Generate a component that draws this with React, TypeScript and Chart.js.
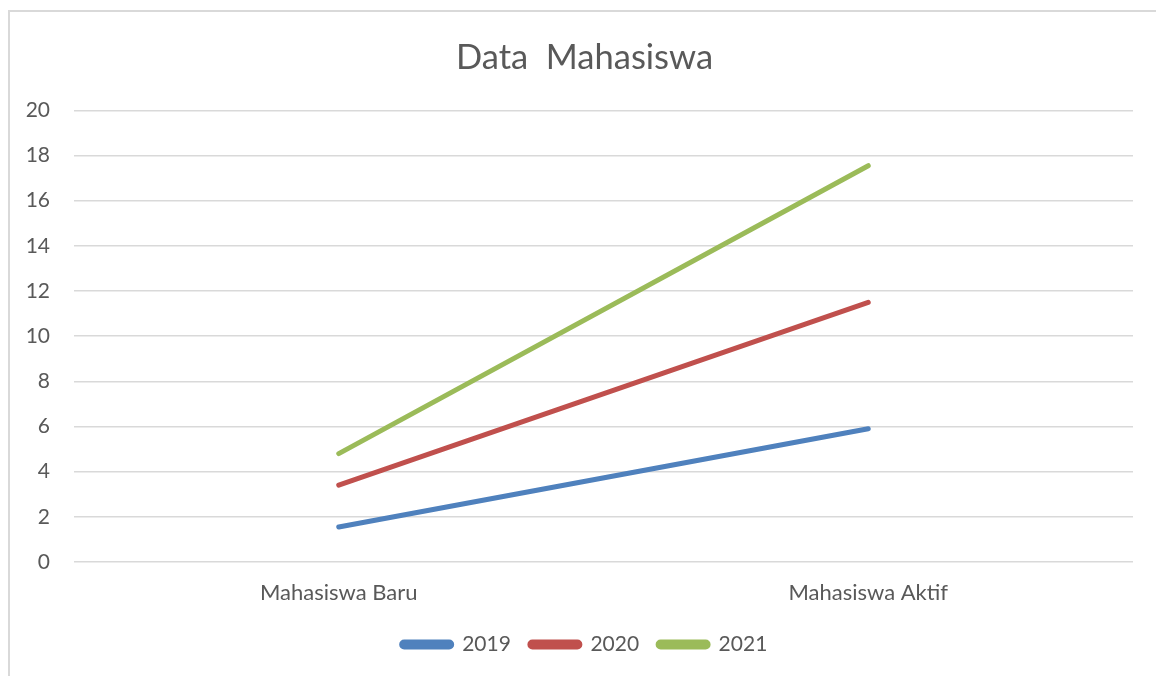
import React, { useEffect, useRef } from "react";
import { Chart, registerables } from "chart.js";

Chart.register(...registerables);

const categories = ["Mahasiswa Baru", "Mahasiswa Aktif"];
const series2019 = [1.55, 5.9];
const series2020 = [3.4, 11.5];
const series2021 = [4.8, 17.55];
const seriesLabels = ["2019", "2020", "2021"];
const seriesColors = ["#4F81BD", "#C0504D", "#9BBB59"];
const titleText = "Data  Mahasiswa";

const FONT = "Lato, 'Open Sans', sans-serif";
const TEXT = "#595959";

export default function App() {
  const ref = useRef<HTMLCanvasElement | null>(null);
  useEffect(() => {
    if (!ref.current) return;
    const data = [series2019, series2020, series2021];
    const chart = new Chart(ref.current, {
      type: "line",
      data: {
        labels: categories,
        datasets: data.map((d, i) => ({
          label: seriesLabels[i],
          data: d,
          borderColor: seriesColors[i],
          backgroundColor: seriesColors[i],
          borderWidth: 5,
          borderCapStyle: "round",
          pointRadius: 0,
          pointHoverRadius: 0,
          tension: 0,
          yAxisID: "y",
        })),
      },
      options: {
        animation: false,
        responsive: false,
        layout: { padding: { left: 26, right: 13, top: 0, bottom: 11 } },
        plugins: {
          title: {
            display: true,
            text: titleText,
            color: TEXT,
            font: { family: FONT, size: 34.5, weight: "normal" },
            padding: { top: 37, bottom: 32 },
          },
          legend: {
            display: true,
            position: "bottom",
            labels: {
              color: TEXT,
              font: { family: FONT, size: 21 },
              boxWidth: 50,
              boxHeight: 5,
              padding: 19,
              useBorderRadius: true,
              borderRadius: 2.5,
            },
          },
          tooltip: { enabled: false },
        },
        scales: {
          x: {
            offset: true,
            grid: { display: false, drawTicks: false },
            border: { display: false },
            ticks: {
              color: TEXT,
              font: { family: FONT, size: 22 },
              padding: 18,
            },
            afterFit: (s: any) => {
              s.height = 53;
            },
          },
          y: {
            position: "left",
            min: 0,
            max: 20,
            ticks: {
              stepSize: 2,
              color: TEXT,
              font: { family: FONT, size: 21 },
              padding: 24,
            },
            grid: { color: "#D9D9D9", lineWidth: 1.5, drawTicks: false },
            border: { display: false },
            afterFit: (s: any) => {
              s.width = 48;
            },
          },
          spacer: {
            type: "linear",
            position: "right",
            display: true,
            ticks: { display: false },
            grid: { display: false, drawTicks: false },
            border: { display: false },
            afterFit: (s: any) => {
              s.width = 10;
            },
          },
        },
      },
    });
    return () => chart.destroy();
  }, []);

  return (
    <div
      style={{
        position: "fixed",
        left: 0,
        top: 0,
        width: 1156,
        height: 676,
        overflow: "hidden",
        background: "#fff",
      }}
    >
      <div
        style={{
          position: "absolute",
          left: 8,
          top: 10,
          width: 1200,
          height: 720,
          border: "2px solid #D9D9D9",
          boxSizing: "border-box",
        }}
      />
      <canvas
        ref={ref}
        width={1156}
        height={676}
        style={{ position: "absolute", left: 0, top: 0 }}
      />
    </div>
  );
}
